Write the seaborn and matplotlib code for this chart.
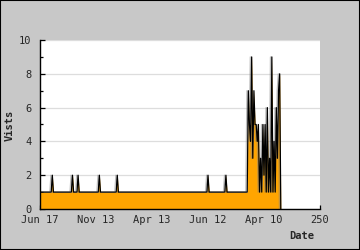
import numpy as np
import pandas as pd
import matplotlib
matplotlib.use("Agg")
import matplotlib.pyplot as plt
import matplotlib.patheffects as pe
import seaborn as sns

# ---- data ----
n_days = 216
spike_days = [11, 29, 34, 53, 69, 150, 166]
busy_start = 186
busy_values = [7, 5, 4, 9, 3, 7, 5, 5, 4, 5, 1, 3, 1, 5, 2, 5, 1, 6, 1, 3,
               1, 9, 1, 4, 1, 6, 3, 7, 8, 0]
tick_positions = [0, 50, 100, 150, 200, 250]
tick_labels = ["Jun 17", "Nov 13", "Apr 13", "Jun 12", "Apr 10", "250"]

visits = [1] * n_days
for d in spike_days:
    visits[d] = 2
for i, v in enumerate(busy_values):
    visits[busy_start + i] = v
df = pd.DataFrame({"day": np.arange(n_days), "visits": visits})

# ---- plot ----
sns.set_style("white")
plt.rcParams["font.family"] = ["DejaVu Sans Mono"]

fig = plt.figure(figsize=(3.6, 2.5), dpi=100, facecolor="#c8c8c8")
ax = fig.add_axes([40/360, 1-209/250, 280/360, 169/250])
ax.set_facecolor("white")

ax.fill_between(df["day"], df["visits"], 0, color="#ffa500", linewidth=0, zorder=2)
sns.lineplot(data=df, x="day", y="visits", ax=ax, color="black", linewidth=0.9,
             zorder=3,
             path_effects=[pe.SimpleLineShadow(offset=(-1.0, 0), shadow_color="gray", alpha=0.5),
                           pe.Normal()])

ax.set_xlim(0, 250)
ax.set_ylim(0, 10)
ax.set_xticks(tick_positions)
ax.set_xticklabels(tick_labels)
ax.set_yticks([0, 2, 4, 6, 8, 10])
ax.set_yticks([1, 3, 5, 7, 9], minor=True)
ax.grid(axis="y", color="#dddddd", linewidth=0.9, zorder=0)
ax.set_axisbelow(True)

for s in ["top", "right"]:
    ax.spines[s].set_visible(False)
for s in ["left", "bottom"]:
    ax.spines[s].set_color("black")
    ax.spines[s].set_linewidth(1.0)
    ax.spines[s].set_zorder(5)

ax.tick_params(axis="x", which="major", direction="in", length=3, width=0.9,
               color="black", labelsize=7.5, pad=4, bottom=True)
ax.tick_params(axis="y", which="major", direction="in", length=3.5, width=0.9,
               color="black", labelsize=7.5, pad=6, left=True)
ax.tick_params(axis="y", which="minor", direction="in", length=2.5, width=0.9,
               color="black", left=True)
ax.set_xlabel("")
ax.set_ylabel("")

fig.text(10/360, 1-125/250, "Vists", rotation=90, ha="center", va="center",
         fontsize=7.5, fontweight="bold")
fig.text(302/360, 1-236/250, "Date", ha="center", va="center",
         fontsize=7.5, fontweight="bold")

fig.patches.append(plt.Rectangle((0, 0), 1, 1, transform=fig.transFigure,
                                 fill=False, edgecolor="black", linewidth=1.5))

fig.savefig("out.png", dpi=100, facecolor=fig.get_facecolor())
